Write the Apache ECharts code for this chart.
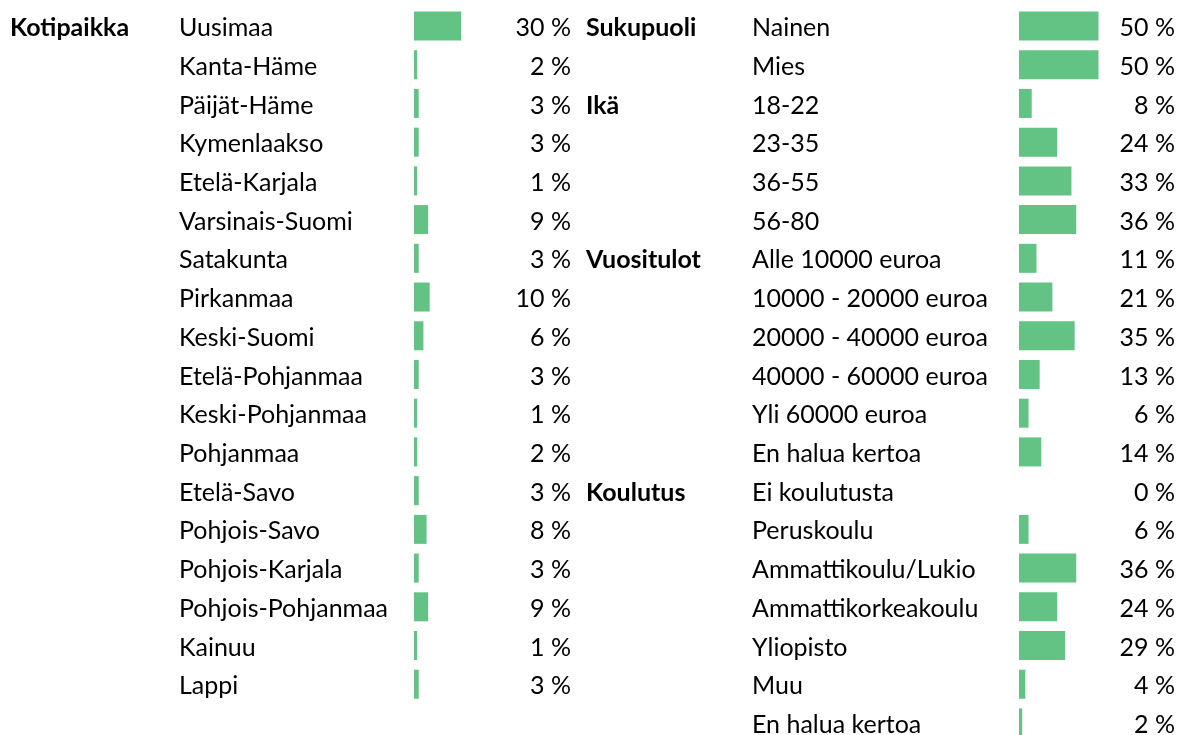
<!DOCTYPE html>
<html>
<head>
<meta charset="utf-8">
<title>Vastaajat</title>
<script src="https://cdn.jsdelivr.net/npm/echarts@6/dist/echarts.min.js"></script>
<style>
  html, body { margin: 0; padding: 0; background: #fff; overflow: hidden; }
  #main { width: 1178px; height: 760px; }
</style>
</head>
<body>
<div id="main"></div>
<script>
// vasen paneeli: kotipaikka
var leftGroups = [['Kotipaikka', 18]];
var leftCats = ['Uusimaa', 'Kanta-Häme', 'Päijät-Häme', 'Kymenlaakso', 'Etelä-Karjala',
  'Varsinais-Suomi', 'Satakunta', 'Pirkanmaa', 'Keski-Suomi', 'Etelä-Pohjanmaa',
  'Keski-Pohjanmaa', 'Pohjanmaa', 'Etelä-Savo', 'Pohjois-Savo', 'Pohjois-Karjala',
  'Pohjois-Pohjanmaa', 'Kainuu', 'Lappi'];
var leftVals = [30, 2, 3, 3, 1, 9, 3, 10, 6, 3, 1, 2, 3, 8, 3, 9, 1, 3];

// oikea paneeli: taustamuuttujat
var rightGroups = [['Sukupuoli', 2], ['Ikä', 4], ['Vuositulot', 6], ['Koulutus', 7]];
var rightCats = ['Nainen', 'Mies', '18-22', '23-35', '36-55', '56-80',
  'Alle 10000 euroa', '10000 - 20000 euroa', '20000 - 40000 euroa', '40000 - 60000 euroa',
  'Yli 60000 euroa', 'En halua kertoa', 'Ei koulutusta', 'Peruskoulu', 'Ammattikoulu/Lukio',
  'Ammattikorkeakoulu', 'Yliopisto', 'Muu', 'En halua kertoa'];
var rightVals = [50, 50, 8, 24, 33, 36, 11, 21, 35, 13, 6, 14, 0, 6, 36, 24, 29, 4, 2];

function groupRows(groups) {
  var out = [];
  groups.forEach(function (g) {
    for (var i = 0; i < g[1]; i++) out.push(i === 0 ? g[0] : '');
  });
  return out;
}
var leftG = groupRows(leftGroups);
var rightG = groupRows(rightGroups);

var FONT = 'Lato';
var FS = 25;
var ROW = 38.72;
var TOP = 26 - ROW / 2;

function ids(n) { var a = []; for (var i = 0; i < n; i++) a.push(i); return a; }

function txt(bold) {
  return { fontFamily: FONT, fontSize: FS, fontWeight: bold ? 'bold' : 'normal', color: '#000', padding: [4, 0, 0, 0] };
}

function panel(idx, left, width, cats, vals, grp, groupW, valMargin) {
  var g = txt(true); g.width = groupW.w;
  return {
    grid: { left: left, top: TOP, width: width, height: ROW * cats.length },
    xAxis: { gridIndex: idx, type: 'value', min: 0, max: 100, show: false },
    yAxes: [{
      gridIndex: idx, type: 'category', inverse: true, position: 'left',
      data: ids(cats.length),
      axisLine: { show: false }, axisTick: { show: false }, splitLine: { show: false },
      axisLabel: {
        align: 'left', margin: groupW.margin,
        formatter: function (v, i) {
          return '{g|' + (grp[i] || ' ') + '}{c|' + cats[i] + '}';
        },
        rich: { g: g, c: txt(false) }
      }
    }, {
      gridIndex: idx, type: 'category', inverse: true, position: 'right',
      data: ids(cats.length),
      axisLine: { show: false }, axisTick: { show: false }, splitLine: { show: false },
      axisLabel: {
        align: 'right', margin: valMargin,
        formatter: function (v, i) { return '{v|' + vals[i] + ' %}'; },
        rich: { v: txt(false) }
      }
    }],
    series: {
      type: 'bar', xAxisIndex: idx, yAxisIndex: idx * 2,
      data: vals.map(function (v) { return v === 0 ? '-' : v; }),
      barWidth: 29, barMinHeight: 3,
      itemStyle: { color: '#63c384' },
      silent: true
    }
  };
}

var L = panel(0, 414, 157, leftCats, leftVals, leftG, { w: 169, margin: 404 }, 0);
var R = panel(1, 1019, 160, rightCats, rightVals, rightG, { w: 166, margin: 433 }, -3);

var chart = echarts.init(document.getElementById('main'));
chart.setOption({
  animation: false,
  backgroundColor: '#fff',
  grid: [L.grid, R.grid],
  xAxis: [L.xAxis, R.xAxis],
  yAxis: L.yAxes.concat(R.yAxes),
  series: [L.series, R.series]
});
</script>
</body>
</html>
